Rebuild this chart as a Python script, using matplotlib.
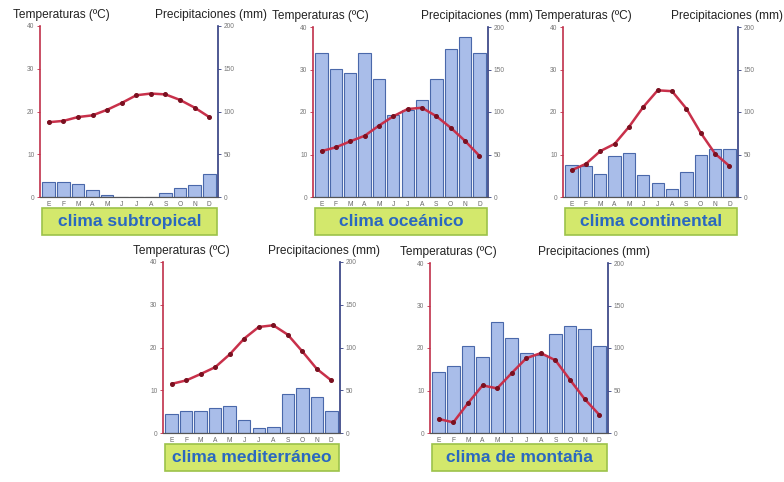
import numpy as np
import matplotlib
matplotlib.use("Agg")
import matplotlib.pyplot as plt
from matplotlib.patches import FancyBboxPatch

# meses
meses = ["E", "F", "M", "A", "M", "J", "J", "A", "S", "O", "N", "D"]

temp_subtropical = [17.5, 17.8, 18.7, 19.1, 20.4, 22.0, 23.8, 24.2, 24.0, 22.7, 20.9, 18.7]
prec_subtropical = [18, 18, 15, 8, 2, 0, 0, 0, 5, 10, 14, 27]

temp_oceanico = [10.8, 11.7, 13.1, 14.4, 16.8, 19.0, 20.7, 21.0, 19.0, 16.3, 13.2, 9.7]
prec_oceanico = [170, 151, 146, 170, 139, 96, 102, 114, 139, 174, 188, 170]

temp_continental = [6.3, 7.8, 10.8, 12.5, 16.5, 21.2, 25.1, 24.9, 20.8, 15.1, 10.2, 7.3]
prec_continental = [38, 36, 27, 48, 52, 26, 17, 10, 29, 50, 57, 57]

temp_mediterraneo = [11.5, 12.3, 13.8, 15.4, 18.4, 22.1, 24.8, 25.2, 23.0, 19.1, 15.0, 12.3]
prec_mediterraneo = [22, 26, 26, 29, 32, 15, 6, 7, 46, 53, 42, 26]

temp_montana = [3.3, 2.5, 7.0, 11.2, 10.5, 14.1, 17.6, 18.8, 17.1, 12.5, 8.0, 4.3]
prec_montana = [72, 79, 102, 89, 131, 112, 94, 92, 116, 126, 122, 102]

titulos = ["clima subtropical", "clima oceánico", "clima continental",
           "clima mediterráneo", "clima de montaña"]

# posicion de cada panel en pixeles: izquierda, derecha, arriba, abajo
paneles = [(40, 218, 26, 197), (313, 488, 27, 197), (563, 738, 27, 197),
           (163, 340, 262, 433), (430, 608, 263, 433)]
# inicio del titulo de temperatura y final del de precipitacion (px)
cab_temp_x = [13, 272, 535, 133, 400]
cab_prec_x = [267, 533, 783, 380, 650]

W, H = 784, 482
fig = plt.figure(figsize=(W / 100, H / 100), dpi=100)
plt.rcParams['font.family'] = ['Liberation Sans', 'DejaVu Sans']

datos = [(temp_subtropical, prec_subtropical), (temp_oceanico, prec_oceanico),
         (temp_continental, prec_continental), (temp_mediterraneo, prec_mediterraneo),
         (temp_montana, prec_montana)]

x = np.arange(12)
for i, ((temp, prec), titulo, (l, r, t, b)) in enumerate(zip(datos, titulos, paneles)):
    ax_t = fig.add_axes([l / W, 1 - b / H, (r - l) / W, (b - t) / H])
    ax_p = ax_t.twinx()
    ax_p.bar(x, prec, width=0.86, color="#a9bde9", edgecolor="#4a68aa", linewidth=0.8)
    ax_p.set_ylim(0, 200)
    ax_t.set_ylim(0, 40)
    ax_t.set_xlim(-0.6, 11.6)
    ax_t.set_zorder(ax_p.get_zorder() + 1)
    ax_t.patch.set_visible(False)
    ax_t.plot(x, temp, color="#c8304a", linewidth=1.8, marker="o", markersize=2.6,
              markerfacecolor="#7a1020", markeredgecolor="#7a1020")

    ax_t.set_yticks([0, 10, 20, 30, 40])
    ax_p.set_yticks([0, 50, 100, 150, 200])
    ax_t.set_xticks(x)
    ax_t.set_xticklabels(meses)
    for a in (ax_t, ax_p):
        a.tick_params(labelsize=4.8, labelcolor="#777777", length=2, width=0.6, pad=2)
        a.spines["top"].set_visible(False)
        a.spines["bottom"].set_color("#555555")
    ax_t.tick_params(axis="x", length=0, pad=3, labelcolor="#666666")
    ax_t.tick_params(axis="y", color="#c0304a")
    ax_p.tick_params(axis="y", color="#303c80")
    ax_t.spines["left"].set_color("#c0304a")
    ax_t.spines["left"].set_linewidth(1.2)
    ax_p.spines["right"].set_color("#303c80")
    ax_p.spines["right"].set_linewidth(1.2)
    ax_t.spines["right"].set_visible(False)
    ax_p.spines["left"].set_visible(False)

    # titulos de los ejes
    fig.text(cab_temp_x[i] / W, 1 - (t - 11) / H, "Temperaturas (ºC)", fontsize=8.6,
             color="#222222", va="center", ha="left")
    fig.text(cab_prec_x[i] / W, 1 - (t - 11) / H, "Precipitaciones (mm)", fontsize=8.6,
             color="#222222", va="center", ha="right")

    # etiqueta del clima
    bx0, bx1 = l + 2, r - 1
    by0, by1 = b + 11, b + 38
    caja = FancyBboxPatch((bx0 / W, 1 - by1 / H), (bx1 - bx0) / W, (by1 - by0) / H,
                          boxstyle="square,pad=0", transform=fig.transFigure,
                          facecolor="#d3e86c", edgecolor="#9cc24a", linewidth=1.2)
    fig.patches.append(caja)
    fig.text((bx0 + bx1) / 2 / W, 1 - (by0 + by1) / 2 / H, titulo, fontsize=12.5,
             fontweight="bold", color="#2a68c0", ha="center", va="center")

fig.savefig("out.png", dpi=100, facecolor="white")
